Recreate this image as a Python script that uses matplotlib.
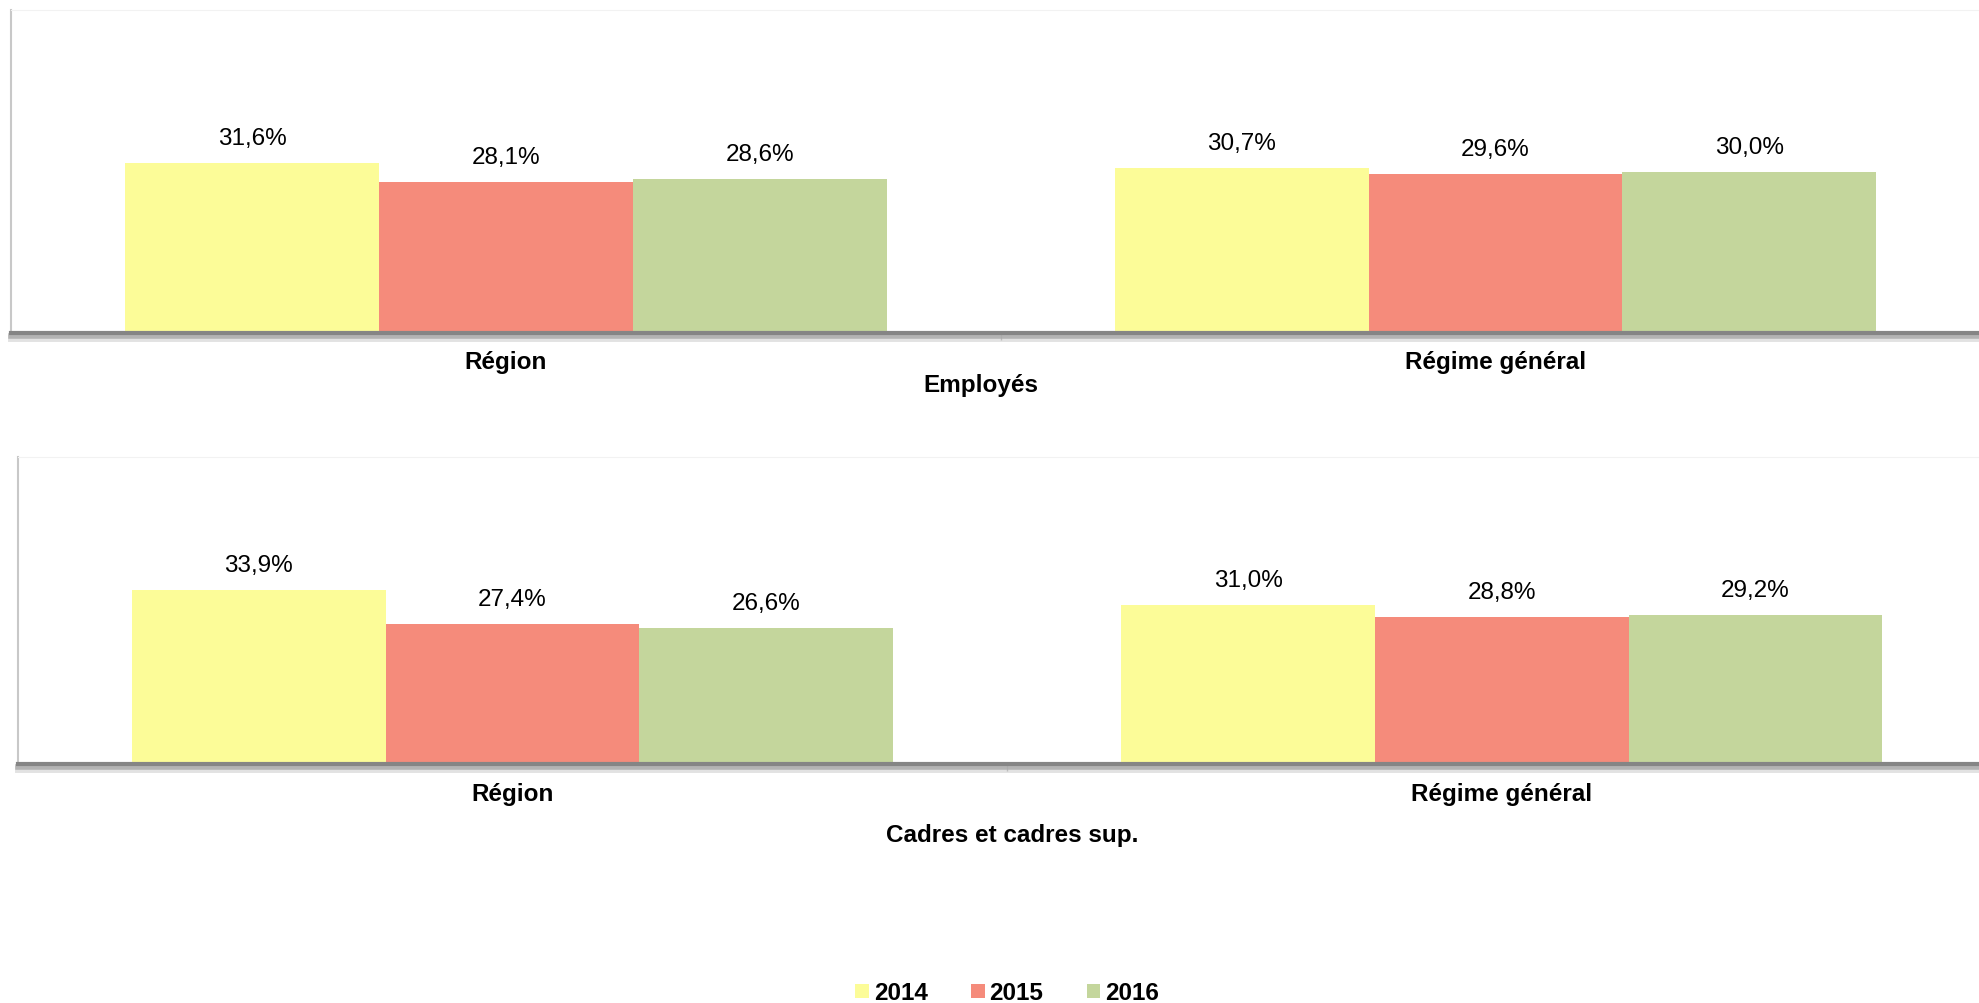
import matplotlib
matplotlib.use('Agg')
import matplotlib.pyplot as plt
import matplotlib.patheffects as pe
from matplotlib.patches import Patch
import numpy as np

plt.rcParams['font.family'] = ['Liberation Sans', 'DejaVu Sans']

categories = ['Région', 'Régime général']
years = ['2014', '2015', '2016']
colors = ['#FCFC98', '#F58B7B', '#C4D69C']

# Employés
emp_2014 = [31.6, 30.7]
emp_2015 = [28.1, 29.6]
emp_2016 = [28.6, 30.0]

# Cadres et cadres sup.
cad_2014 = [33.9, 31.0]
cad_2015 = [27.4, 28.8]
cad_2016 = [26.6, 29.2]

panels = [
    ('Employés', [emp_2014, emp_2015, emp_2016], [0.0057, 0.667, 1.0, 0.322], 20, 36.5),
    ('Cadres et cadres sup.', [cad_2014, cad_2015, cad_2016], [0.0089, 0.238, 1.0, 0.306], 21.5, 51),
]
title_x = [0.48, 0.505]

fig = plt.figure(figsize=(19.79, 10.04), dpi=100)

x = np.arange(len(categories))
w = 0.2564
fs = 17.5

for k, (title, series, rect, lab_off, title_off) in enumerate(panels):
    ax = fig.add_axes(rect)
    for j, vals in enumerate(series):
        pos = x + (j - 1) * w
        ax.bar(pos, vals, width=w, color=colors[j], edgecolor='none')
        for px, v in zip(pos, vals):
            ax.annotate(f'{v:.1f}%'.replace('.', ','), xy=(px, v), xytext=(0, 18),
                        textcoords='offset points', ha='center', va='center', fontsize=fs)
    ax.set_xlim(-0.5, 1.5)
    ax.set_ylim(0, 60)
    ax.set_yticks([])
    ax.set_xticks([])
    ax.set_xticks([0.5], minor=True)
    ax.tick_params(axis='x', which='minor', length=5, width=1, color='#a0a0a0', direction='out')
    ax.set_xticklabels([], minor=True)
    for i, c in enumerate(categories):
        ax.annotate(c, xy=(i, 0), xycoords=('data', 'axes fraction'), xytext=(0, -lab_off),
                    textcoords='offset points', ha='center', va='center',
                    fontsize=fs, fontweight='bold')
    ax.annotate(title, xy=(title_x[k], 0), xycoords=('data', 'axes fraction'), xytext=(0, -title_off),
                textcoords='offset points', ha='center', va='center',
                fontsize=fs, fontweight='bold')
    ax.spines['top'].set_color('#f2f2f2')
    ax.spines['right'].set_visible(False)
    ax.spines['left'].set_color('#c8c8c8')
    ax.spines['left'].set_linewidth(1.5)
    ax.spines['bottom'].set_color('#858585')
    ax.spines['bottom'].set_linewidth(3)
    ax.spines['bottom'].set_path_effects([
        pe.SimpleLineShadow(offset=(0, -3.5), shadow_color='#d0d0d0', alpha=0.6, linewidth=5),
        pe.SimpleLineShadow(offset=(0, -2), shadow_color='#a8a8a8', alpha=0.8, linewidth=4),
        pe.Normal()])

handles = [Patch(facecolor=c, edgecolor='none') for c in colors]
fig.legend(handles, years, loc='center', bbox_to_anchor=(0.509, 0.010), ncol=3, frameon=False,
           prop={'size': fs, 'weight': 'bold'}, handlelength=0.55, handleheight=0.55,
           handletextpad=0.2, columnspacing=1.8)

fig.savefig('out.png', dpi=100)
